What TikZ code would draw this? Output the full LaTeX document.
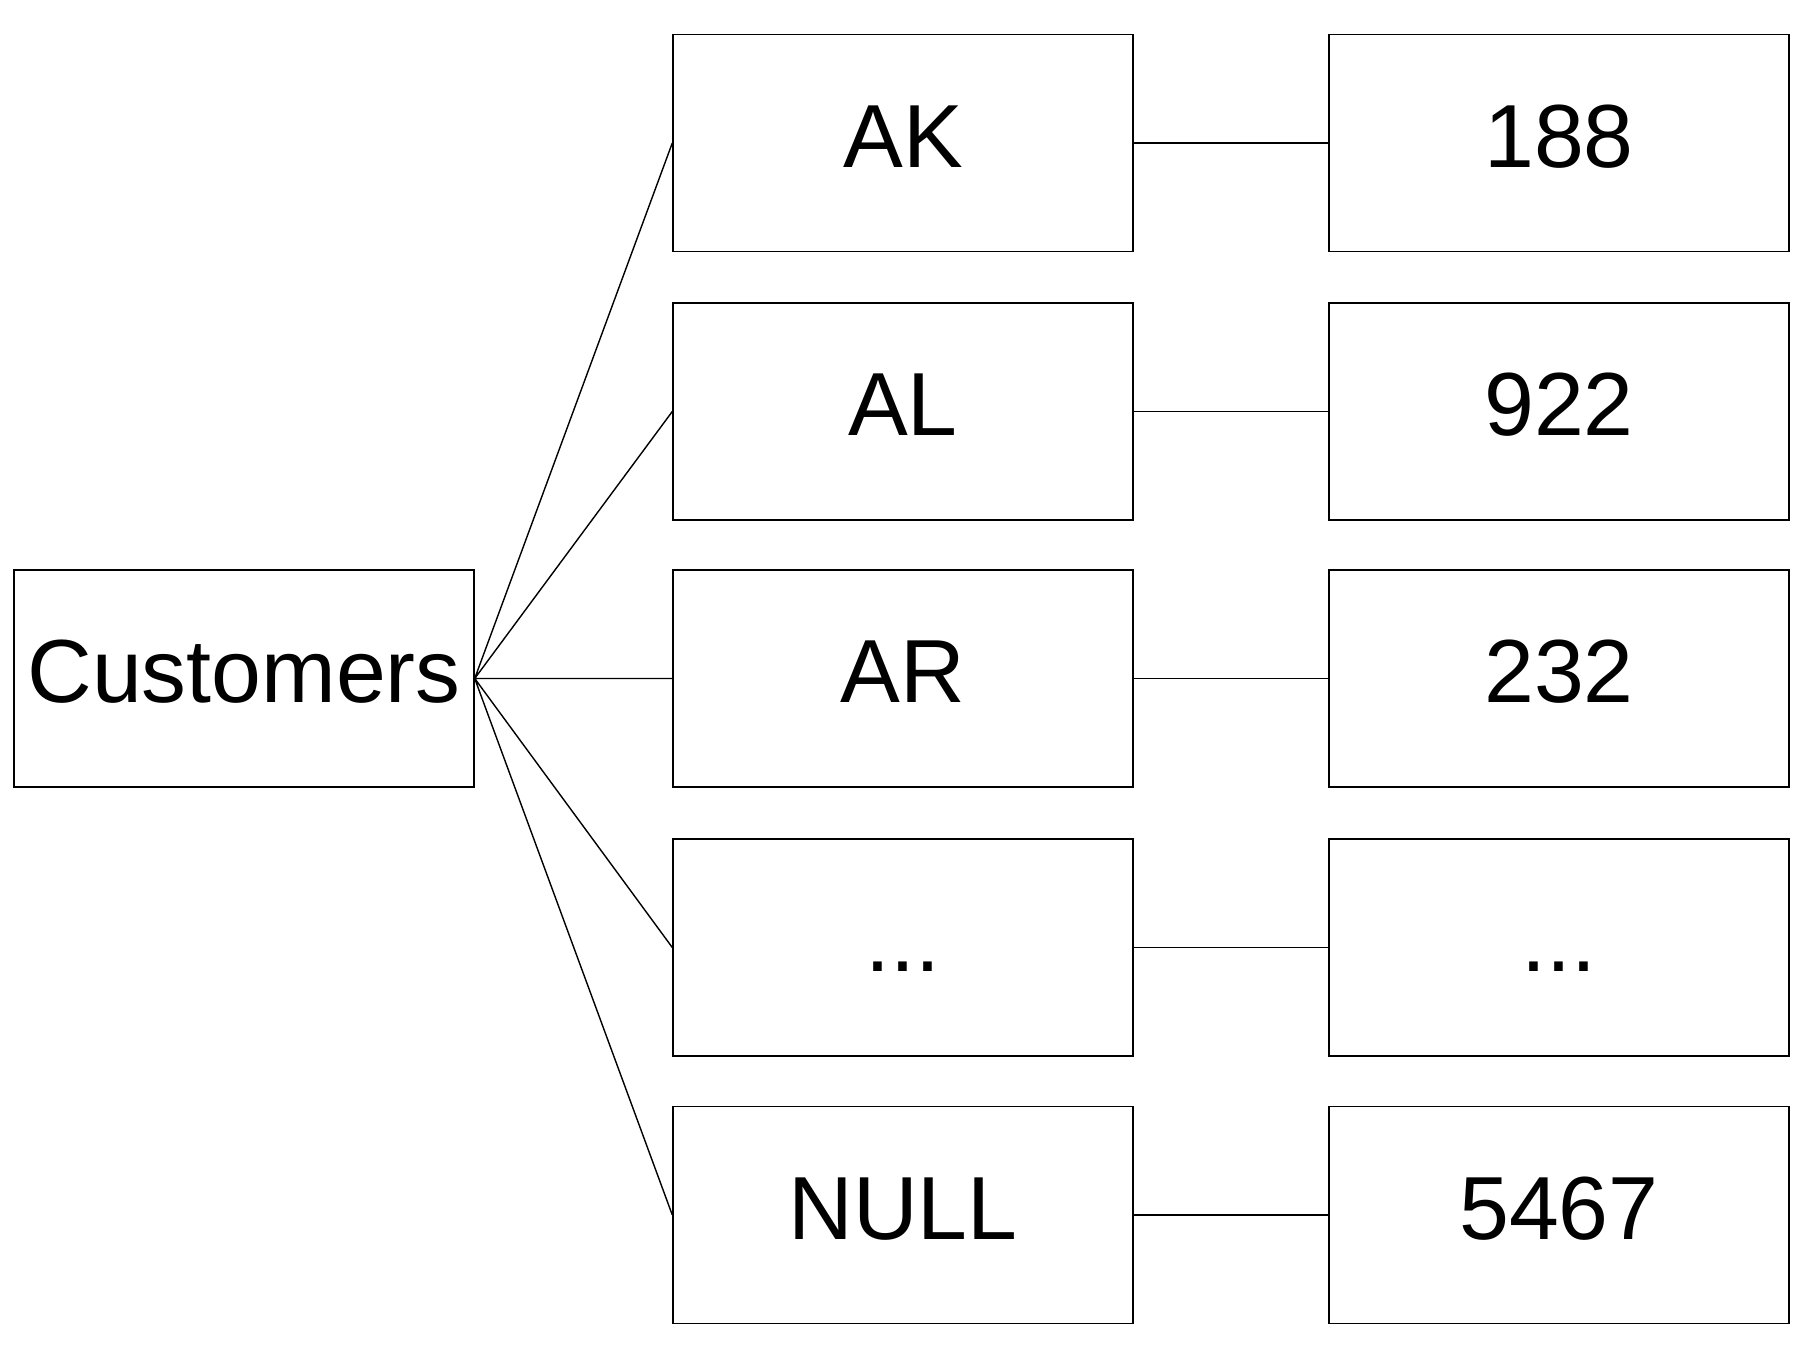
\documentclass[tikz,border=0pt]{standalone}
\usepackage{fontspec}
\setmainfont{Liberation Sans}
\usepackage{tikz}

\begin{document}
\begin{tikzpicture}[every node/.style={draw,shape=rectangle,minimum width=4.6cm,minimum height=2.17cm,inner sep=0pt,text height=0.65cm,text depth=0.16cm,font=\fontsize{25.5}{28}\selectfont}]
		\useasboundingbox (0,0) rectangle (18.07,13.51);
		\path (2.44,6.725) node (cust) {Customers}
		(9.03,12.08) node (sak) {AK}
		(9.03,9.395) node (sal) {AL}
		(9.03,6.725) node (sar) {AR}
		(9.03,4.035) node (sdots) {...}
		(9.03,1.36) node (snull) {NULL}
		(15.59,12.08) node (cak) {188}
		(15.59,9.395) node (cal) {922}
		(15.59,6.725) node (car) {232}
		(15.59,4.035) node (cdots) {...}
		(15.59,1.36) node (cnull) {5467};

		\draw (cust.east) -- (sak.west)
		(cust.east) -- (sal.west)
		(cust.east) -- (sar.west)
		(cust.east) -- (sdots.west)
		(cust.east) -- (snull.west);

		\draw (sak) -- (cak)
		(sal) -- (cal)
		(sar) -- (car)
		(sdots) -- (cdots)
		(snull) -- (cnull);
	\end{tikzpicture}
\end{document}
